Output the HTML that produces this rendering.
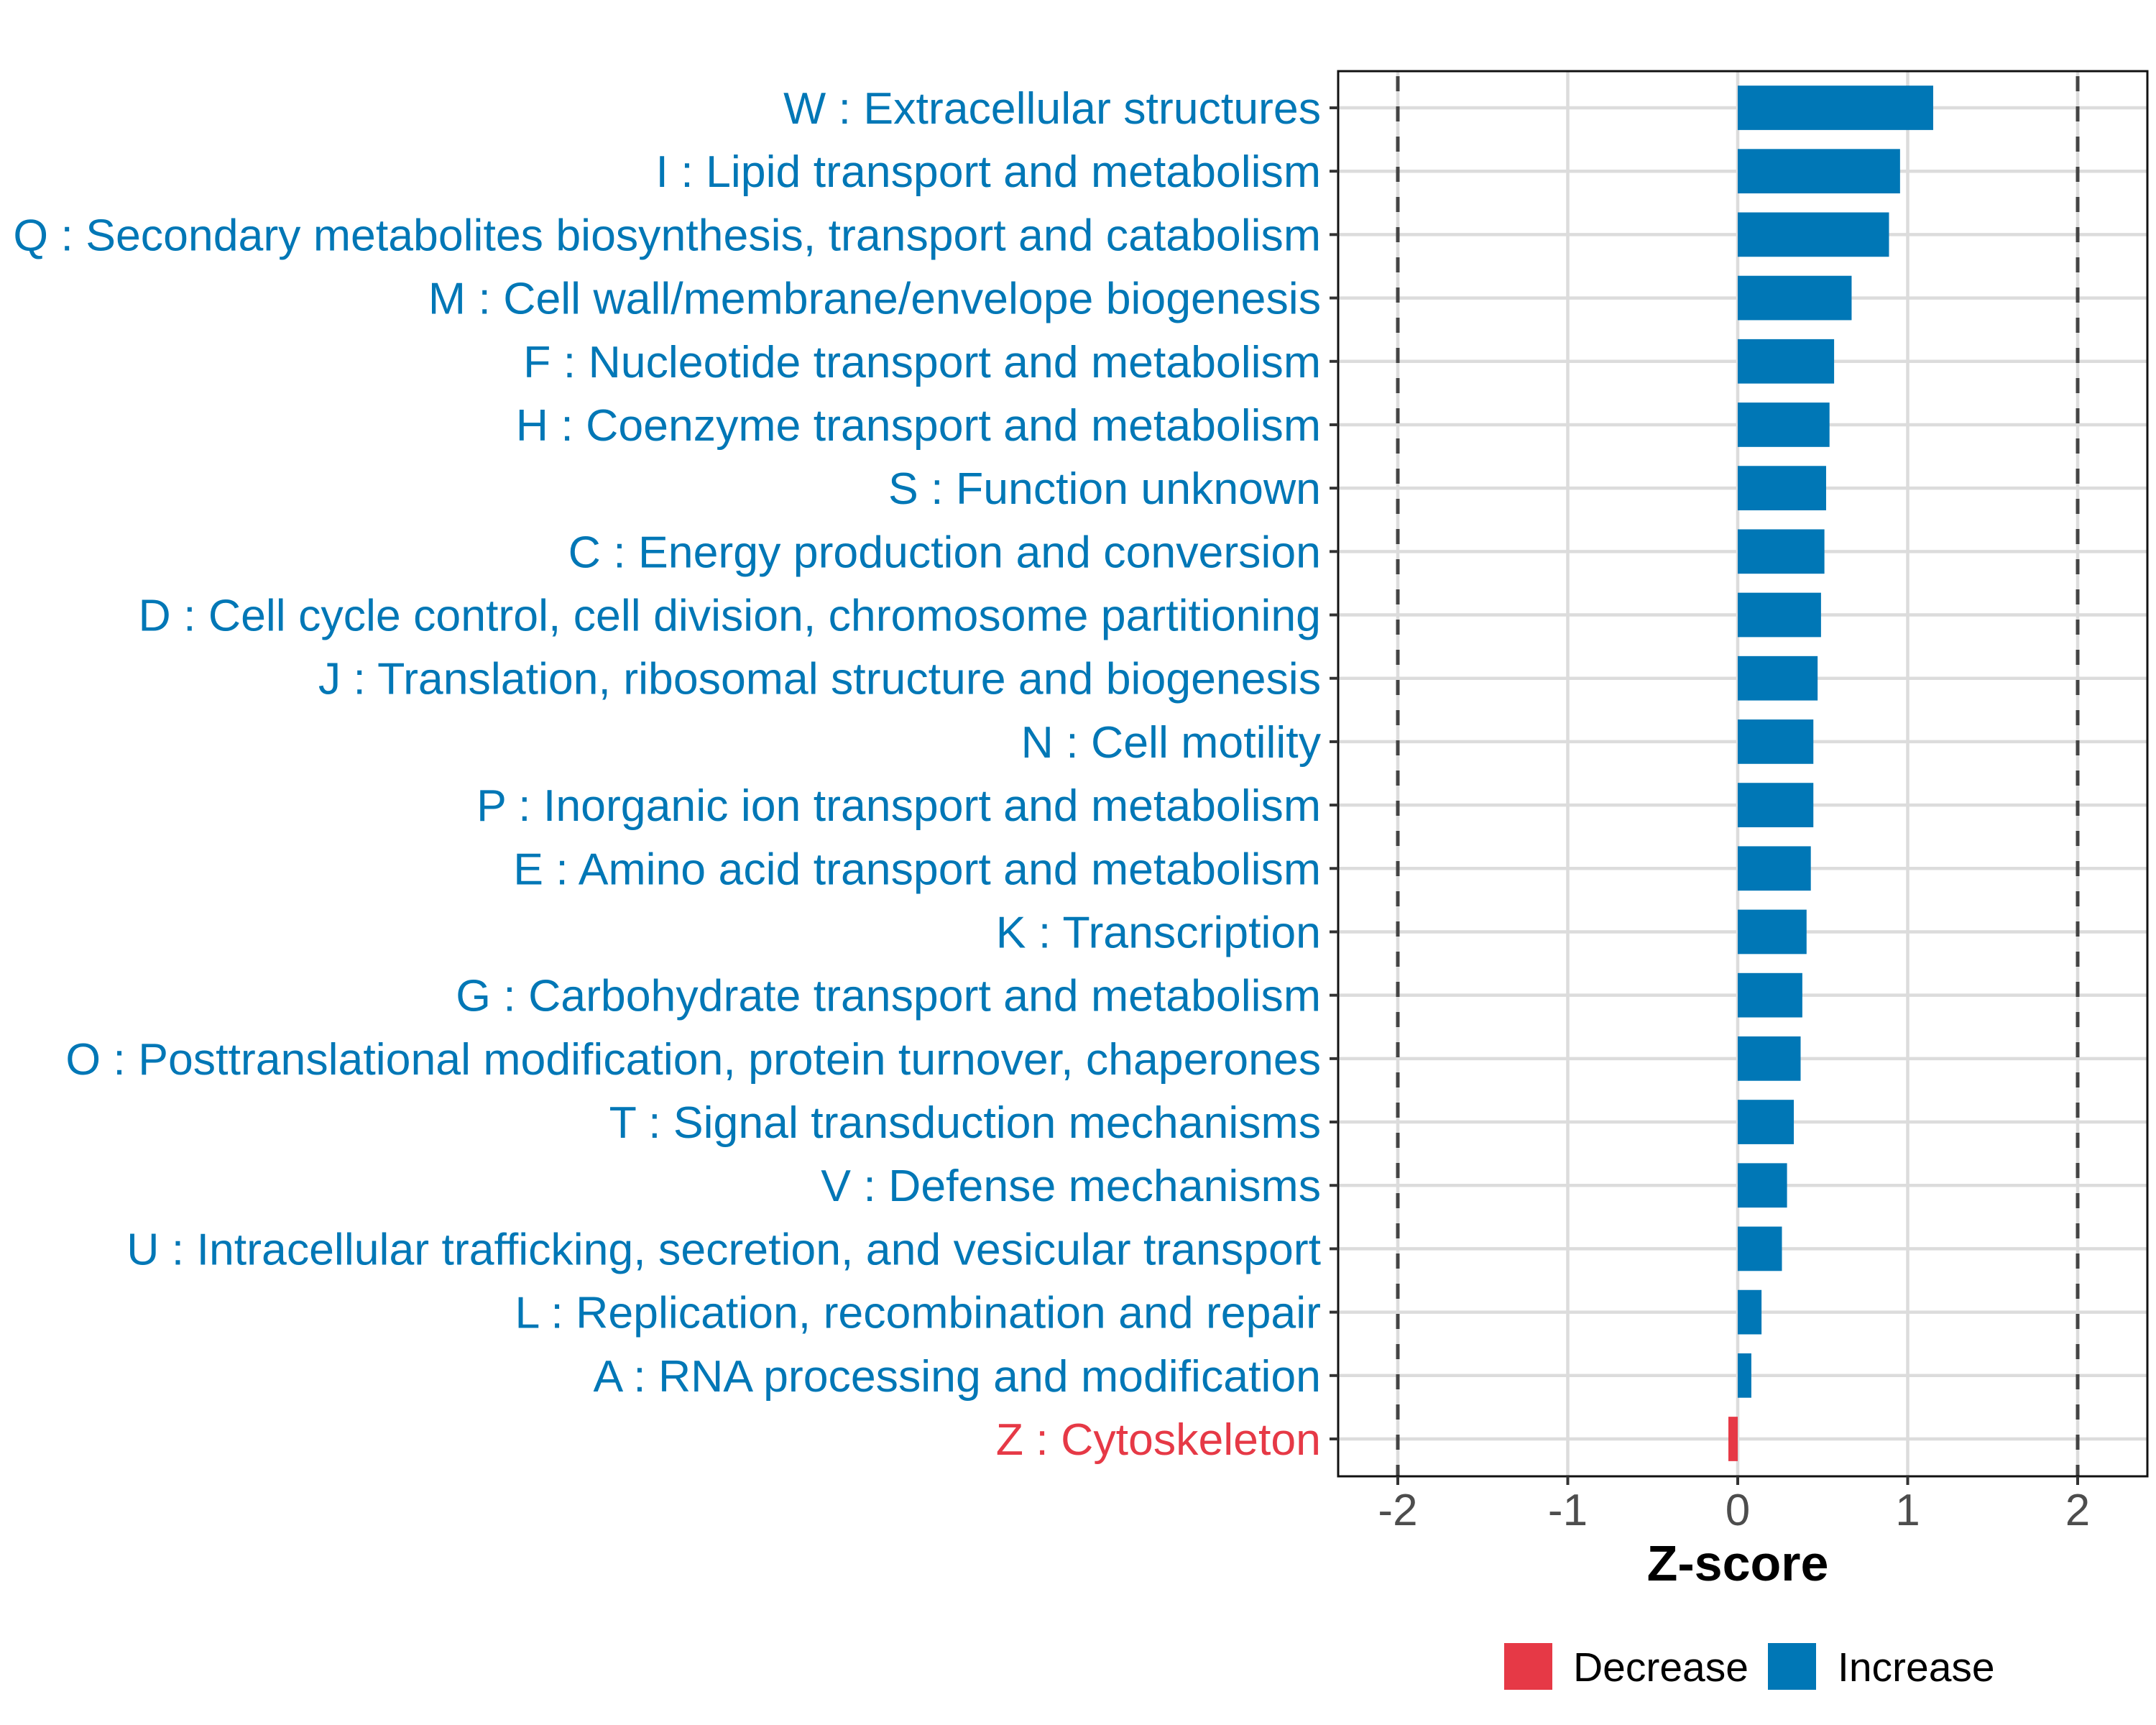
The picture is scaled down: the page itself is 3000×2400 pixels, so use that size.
<!DOCTYPE html>
<html><head><meta charset="utf-8"><style>
html,body{margin:0;padding:0;background:#fff;}
svg{display:block;font-family:"Liberation Sans",Arial,sans-serif;}
</style></head><body>
<svg id="chart" width="3000" height="2400" viewBox="0 0 3000 2400" xmlns="http://www.w3.org/2000/svg">
<rect x="0" y="0" width="3000" height="2400" fill="#fff"/>
<g id="grid"></g>
<g id="bars"></g>
<g id="vlines"></g>
<rect x="1862" y="99" width="1126" height="1955" fill="none" stroke="#111" stroke-width="3"/>
<g id="yaxis"></g>
<g id="xaxis"></g>
<text x="2418" y="2199" text-anchor="middle" font-size="70" font-weight="bold" fill="#000">Z-score</text>
<g>
<rect x="2093" y="2286" width="67" height="65" fill="#e63946"/>
<text x="2189" y="2339" font-size="57" fill="#000">Decrease</text>
<rect x="2460" y="2286" width="67" height="65" fill="#0077b6"/>
<text x="2557" y="2339" font-size="57" fill="#000">Increase</text>
</g>
</svg>
<script>
const categories = [
"W : Extracellular structures",
"I : Lipid transport and metabolism",
"Q : Secondary metabolites biosynthesis, transport and catabolism",
"M : Cell wall/membrane/envelope biogenesis",
"F : Nucleotide transport and metabolism",
"H : Coenzyme transport and metabolism",
"S : Function unknown",
"C : Energy production and conversion",
"D : Cell cycle control, cell division, chromosome partitioning",
"J : Translation, ribosomal structure and biogenesis",
"N : Cell motility",
"P : Inorganic ion transport and metabolism",
"E : Amino acid transport and metabolism",
"K : Transcription",
"G : Carbohydrate transport and metabolism",
"O : Posttranslational modification, protein turnover, chaperones",
"T : Signal transduction mechanisms",
"V : Defense mechanisms",
"U : Intracellular trafficking, secretion, and vesicular transport",
"L : Replication, recombination and repair",
"A : RNA processing and modification",
"Z : Cytoskeleton"];
const zscores = [1.15,0.955,0.89,0.67,0.567,0.54,0.52,0.51,0.49,0.47,0.445,0.445,0.43,0.405,0.38,0.37,0.33,0.29,0.26,0.14,0.08,-0.055];
const xTicks = [-2,-1,0,1,2];
const xTickLabels = ["-2","-1","0","1","2"];
const thresholds = [-2,2];

const NS = "http://www.w3.org/2000/svg";
const X0 = 2418, UNIT = 236.5;
const Y0 = 150, STEP = (2002-150)/21;
const PL = 1862, PR = 2988, PT = 99, PB = 2054;
const BLUE = "#0077b6", RED = "#e63946";
function xs(v){ return X0 + v*UNIT; }
function ys(i){ return Y0 + i*STEP; }
function mk(tag, attrs, parent){
  const e = document.createElementNS(NS, tag);
  for (const k in attrs) e.setAttribute(k, attrs[k]);
  parent.appendChild(e); return e;
}
const grid = document.getElementById('grid');
xTicks.forEach(function(t){
  const l = mk('line',{x1:xs(t),x2:xs(t),y1:PT,y2:PB,stroke:'#dcdcdc','stroke-width':4.5},grid);
  
  
});
categories.forEach(function(c,i){
  const l = mk('line',{x1:PL,x2:PR,y1:ys(i),y2:ys(i),stroke:'#dcdcdc','stroke-width':4.5},grid);
  
  
});
const bars = document.getElementById('bars');
const BH = STEP*0.7;
zscores.forEach(function(v,i){
  const x1 = Math.min(xs(0), xs(v)), w = Math.abs(xs(v)-xs(0));
  const r = mk('rect',{x:x1,y:ys(i)-BH/2,width:w,height:BH,fill:v<0?RED:BLUE},bars);
  
  
});
const vl = document.getElementById('vlines');
thresholds.forEach(function(t){
  const l = mk('line',{x1:xs(t),x2:xs(t),y1:PT,y2:PB,stroke:'#444','stroke-width':5,'stroke-dasharray':'21 21','stroke-dashoffset':'-7'},vl);
  
  
});
const ya = document.getElementById('yaxis');
categories.forEach(function(c,i){
  const tk = mk('line',{x1:PL-12,x2:PL,y1:ys(i),y2:ys(i),stroke:'#333','stroke-width':4},ya);
  
  
  const t = mk('text',{x:1838,y:ys(i)+22,'text-anchor':'end','font-size':62.6,fill:zscores[i]<0?RED:BLUE},ya);
  t.textContent = c;
  
  
});
const xa = document.getElementById('xaxis');
xTicks.forEach(function(v,i){
  const tk = mk('line',{x1:xs(v),x2:xs(v),y1:PB,y2:PB+12,stroke:'#333','stroke-width':4},xa);
  
  
  const t = mk('text',{x:xs(v),y:2122,'text-anchor':'middle','font-size':62,fill:'#4d4d4d'},xa);
  t.textContent = xTickLabels[i];
  
  
});
</script>
</body></html>
